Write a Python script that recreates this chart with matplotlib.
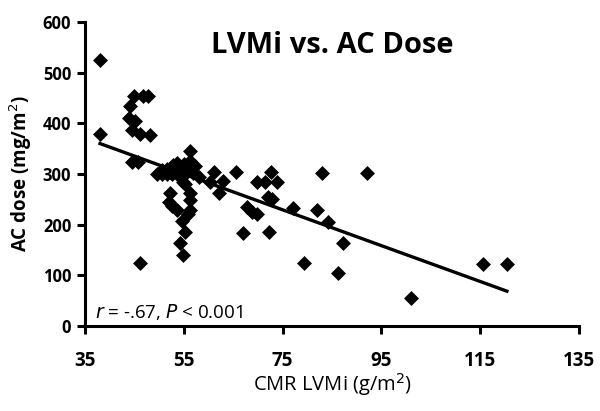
import matplotlib
matplotlib.use("Agg")
import matplotlib.pyplot as plt
import numpy as np

# CMR LVMi (g/m2) vs AC dose (mg/m2)
lvmi = [38, 38, 44.8, 46.8, 47.8, 44.1, 43.8, 45.1, 44.5, 46.1, 48.2, 44.5, 45.6, 46.1,
        49.5, 50.5, 51.5, 52.5, 53.5, 50.5, 51.5, 52.5, 53.2, 54, 55, 54.5, 55.3, 53.5,
        52.8, 55.8, 56.8, 56.2, 56.3, 57.3, 58, 54.9,
        52.2, 51.9, 52.5, 53.6, 56.3, 56.3, 56.3, 55.9, 54.6, 55.2, 54.1, 54.9, 55.2,
        61.1, 60.3, 63.0, 62.1, 65.6, 69.8, 71.4, 72.7, 73.9, 72.0, 72.9, 67.8, 68.8,
        69.8, 67.0, 72.2, 77.1, 82.0, 83.0, 92.1, 84.2, 87.2, 79.3, 86.2, 101.0,
        115.6, 120.4]
ac_dose = [525, 380, 455, 455, 455, 435, 410, 405, 388, 380, 378, 324, 324, 125,
           300, 300, 300, 300, 300, 308, 310, 313, 306, 316, 320, 304, 300, 322,
           318, 310, 302, 325, 345, 315, 295, 285,
           262, 245, 236, 229, 262, 248, 229, 222, 208, 185, 163, 140, 280,
           304, 284, 286, 262, 304, 284, 284, 304, 284, 255, 250, 235, 225,
           222, 184, 185, 233, 229, 303, 303, 205, 164, 124, 104, 56,
           123, 123]

xticks = [35, 55, 75, 95, 115, 135]
yticks = [0, 100, 200, 300, 400, 500, 600]

plt.rcParams['font.family'] = ['Open Sans', 'DejaVu Sans']

fig = plt.figure(figsize=(6, 4.11), dpi=100)
ax = fig.add_axes([0.142, 0.207, 0.823, 0.739])

ax.scatter(lvmi, ac_dose, marker='D', s=58, color='black', zorder=3, linewidths=0)

# least squares trend line
coef = np.polyfit(lvmi, ac_dose, 1)
xl = np.array([min(lvmi), max(lvmi)])
ax.plot(xl, np.polyval(coef, xl), color='black', lw=2.4, zorder=2)

ax.set_xlim(35, 135)
ax.set_ylim(0, 600)
ax.set_xticks(xticks)
ax.set_yticks(yticks)
ax.set_xticklabels([str(t) for t in xticks], fontsize=13.5, fontweight='bold')
ax.set_yticklabels([str(t) for t in yticks], fontsize=12, fontweight='bold')
ax.tick_params(direction='out', length=6, width=2.2, pad=4)
ax.tick_params(axis='x', pad=12)

ax.spines["top"].set_visible(False)
ax.spines["right"].set_visible(False)
ax.spines["left"].set_linewidth(2.2)
ax.spines["bottom"].set_linewidth(2.2)

ax.set_xlabel('CMR LVMi (g/m$^2$)', fontsize=14.5, labelpad=0)
ax.set_ylabel('AC dose (mg/m$^2$)', fontsize=13.5, fontweight='bold', labelpad=6)

ax.text(0.5, 0.97, 'LVMi vs. AC Dose', transform=ax.transAxes,
        ha='center', va='top', fontsize=21, fontweight='bold')
ax.text(37, 28, r'$\it{r}$ = -.67, $\it{P}$ < 0.001', fontsize=13.5,
        ha='left', va='center')

fig.savefig('out.png', dpi=100)
